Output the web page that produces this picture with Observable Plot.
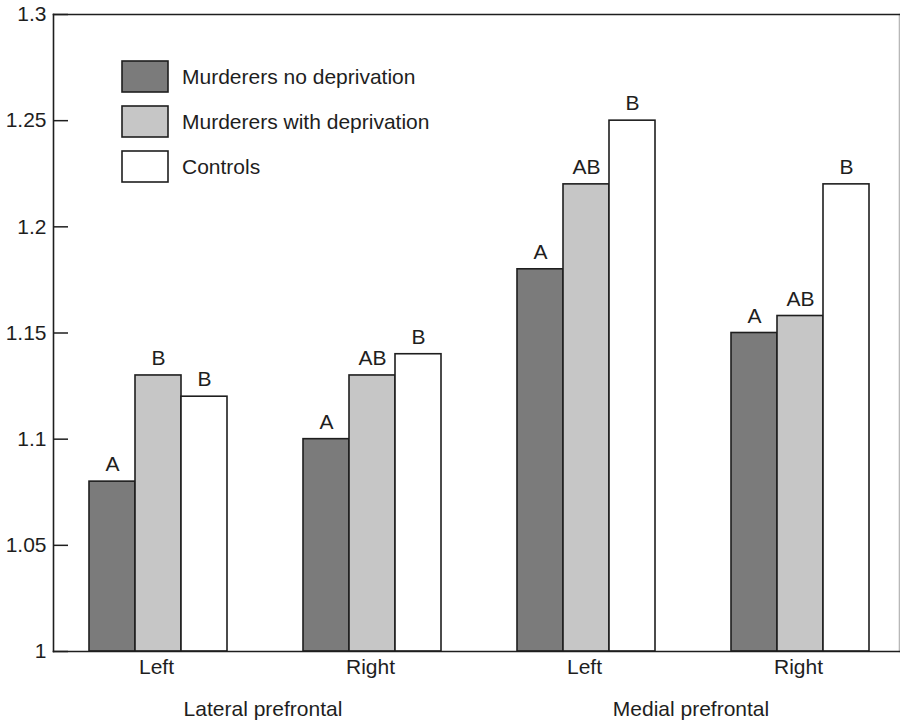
<!DOCTYPE html>
<html>
<head>
<meta charset="utf-8">
<script src="https://cdn.jsdelivr.net/npm/d3@7"></script>
<script src="https://cdn.jsdelivr.net/npm/@observablehq/plot@0.6"></script>
<style>
  html, body { margin: 0; padding: 0; background: #fff; }
  #chart { width: 900px; height: 721px; }
  #chart svg { display: block; }
</style>
</head>
<body>
<div id="chart"></div>
<script>
// Prefrontal measures by region, hemisphere and group
const groupKeys = ["Lateral Left", "Lateral Right", "Medial Left", "Medial Right"];
const sideLabels = ["Left", "Right", "Left", "Right"];
const regionLabels = ["Lateral prefrontal", "Medial prefrontal"];
const regionGroups = [["Lateral Left", "Lateral Right"], ["Medial Left", "Medial Right"]];

const seriesNames = ["Murderers no deprivation", "Murderers with deprivation", "Controls"];
const seriesColors = ["#7b7b7b", "#c6c6c6", "#ffffff"];

const noDeprivation = [1.08, 1.10, 1.18, 1.15];
const withDeprivation = [1.13, 1.13, 1.22, 1.158];
const controls = [1.12, 1.14, 1.25, 1.22];

const noDeprivationLetters = ["A", "A", "A", "A"];
const withDeprivationLetters = ["B", "AB", "AB", "AB"];
const controlsLetters = ["B", "B", "B", "B"];

const yTicks = [1, 1.05, 1.1, 1.15, 1.2, 1.25, 1.3];
const yTickLabels = ["1", "1.05", "1.1", "1.15", "1.2", "1.25", "1.3"];

const seriesValues = [noDeprivation, withDeprivation, controls];
const seriesLetters = [noDeprivationLetters, withDeprivationLetters, controlsLetters];

const rows = [];
groupKeys.forEach((g, i) => {
  seriesNames.forEach((s, j) => {
    rows.push({group: g, series: s, value: seriesValues[j][i], letter: seriesLetters[j][i]});
  });
});

const font = "'Liberation Sans', Arial, Helvetica, sans-serif";
const ink = "#1e1e1e";
const fs = 21;

// Frame sides: the right edge is drawn lighter than the others
const frameSide = (anchor, stroke) =>
  Plot.frame({facet: "super", anchor, insetLeft: 4, insetRight: 6, stroke, strokeWidth: 1.6});

// Each hemisphere is a facet; bars sit inside it with gutters on both sides.
const plot = Plot.plot({
  width: 900,
  height: 721,
  marginLeft: 48,
  marginRight: 0,
  marginTop: 14,
  marginBottom: 70,
  style: {fontFamily: font, fontSize: fs + "px", color: ink, background: "#fff"},
  fx: {domain: groupKeys, range: [48, 905], padding: 0, label: null},
  x: {domain: seriesNames, padding: 0, insetLeft: 40, insetRight: 36, axis: null},
  y: {domain: [1, 1.3], label: null},
  color: {domain: seriesNames, range: seriesColors},
  marks: [
    Plot.barY(rows, {
      fx: "group", x: "series", y1: 1, y2: "value",
      fill: "series", stroke: ink, strokeWidth: 1.6
    }),
    Plot.text(rows, {
      fx: "group", x: "series", y: "value", text: "letter",
      dy: -17, fontSize: fs, fill: ink
    }),
    Plot.axisY({
      ticks: yTicks,
      tickFormat: d => yTickLabels[yTicks.indexOf(d)],
      tickSize: -15, tickPadding: 22, dx: 4,
      fontSize: fs, stroke: ink, strokeWidth: 1.5, fill: ink,
      label: null
    }),
    Plot.axisFx({
      anchor: "bottom",
      tickSize: 0, tickPadding: 8,
      tickFormat: d => sideLabels[groupKeys.indexOf(d)],
      fontSize: fs, fill: ink,
      label: null
    }),
    frameSide("right", "#b8b8b8"),
    frameSide("top", ink),
    frameSide("left", ink),
    frameSide("bottom", ink)
  ]
});

document.getElementById("chart").appendChild(plot);

const svg = d3.select(plot);
const fx = plot.scale("fx");

// Region labels centred under each pair of hemispheres
regionLabels.forEach((label, i) => {
  const centers = regionGroups[i].map(g => fx.apply(g) + fx.bandwidth / 2);
  svg.append("text")
    .attr("x", d3.mean(centers))
    .attr("y", 716)
    .attr("text-anchor", "middle")
    .attr("font-family", font)
    .attr("font-size", fs)
    .attr("fill", ink)
    .text(label);
});

// Legend inside the plot area
const legend = svg.append("g").attr("transform", "translate(122,61)");
seriesNames.forEach((name, i) => {
  const row = legend.append("g").attr("transform", `translate(0,${i * 45})`);
  row.append("rect")
    .attr("width", 46).attr("height", 31)
    .attr("fill", seriesColors[i])
    .attr("stroke", ink).attr("stroke-width", 1.6);
  row.append("text")
    .attr("x", 60).attr("y", 15.5).attr("dy", "0.35em")
    .attr("text-anchor", "start")
    .attr("font-family", font).attr("font-size", fs)
    .attr("fill", ink)
    .text(name);
});
</script>
</body>
</html>
